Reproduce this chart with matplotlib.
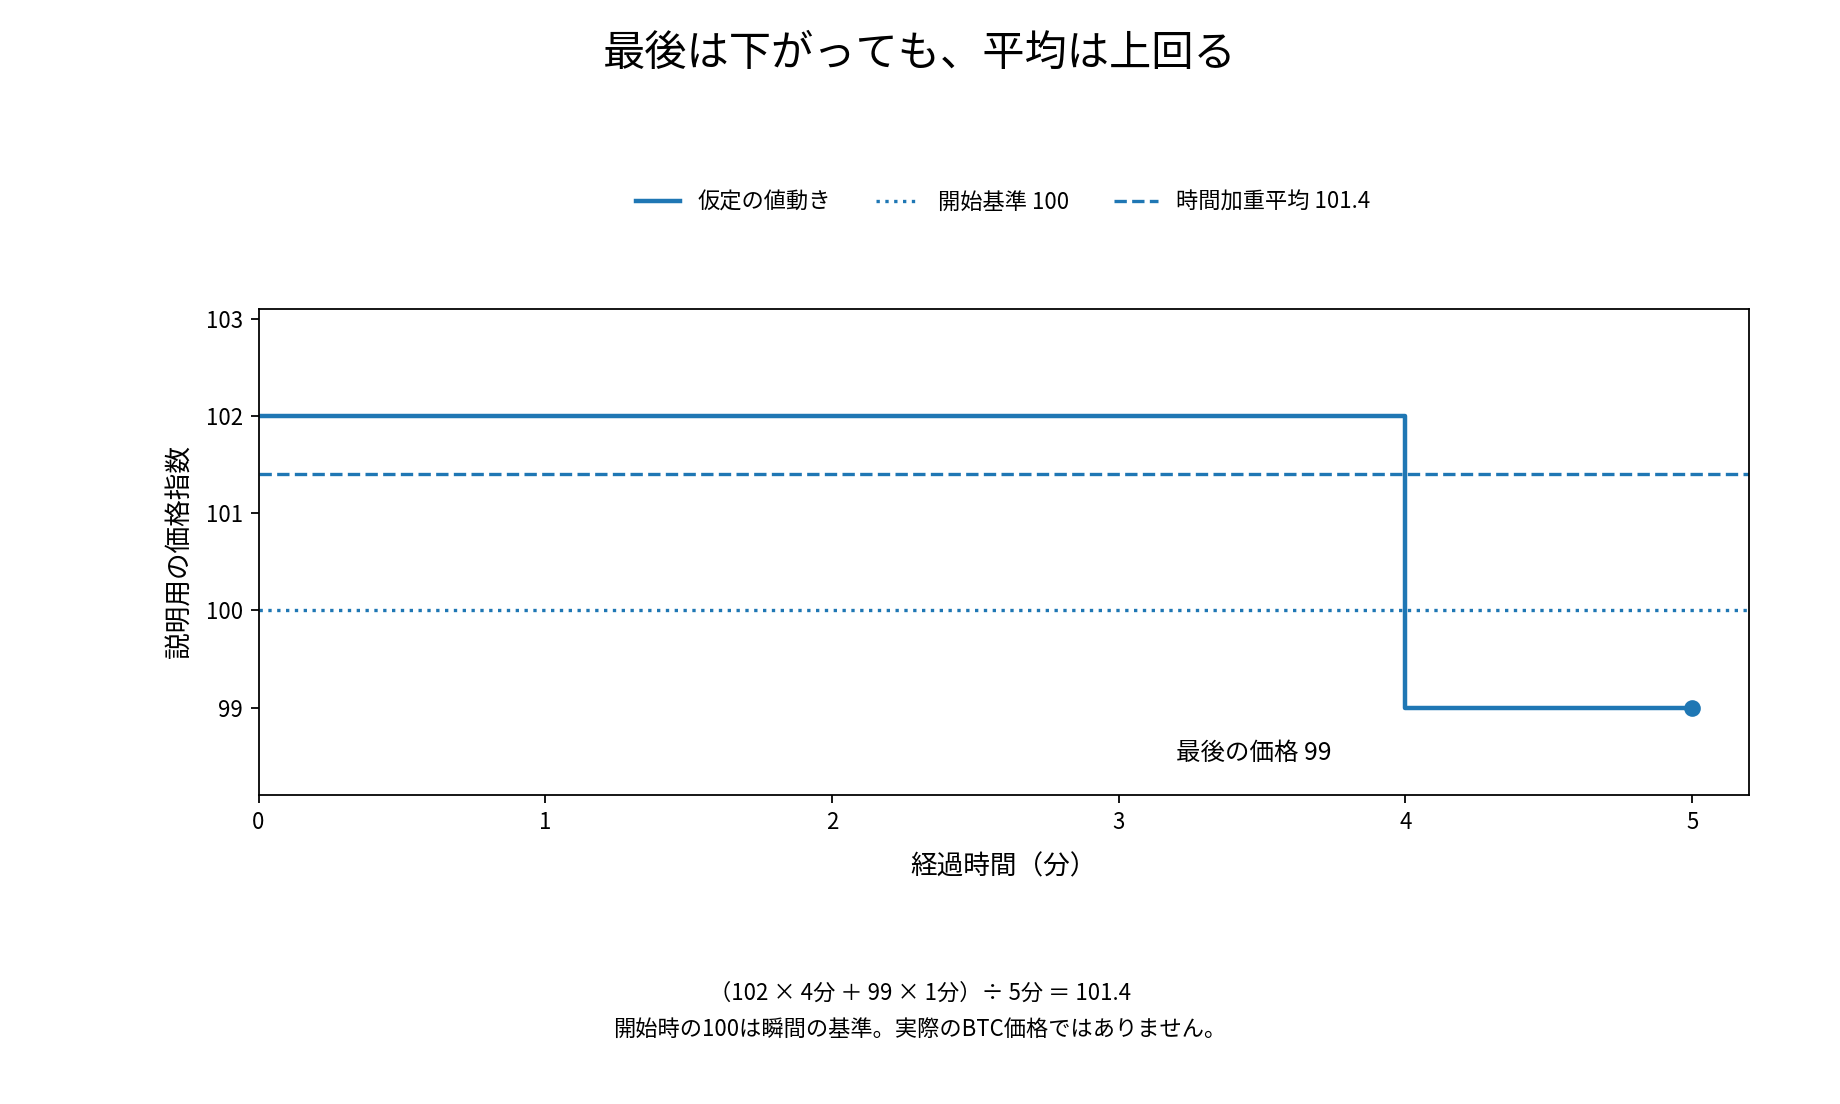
import matplotlib
matplotlib.use("Agg")
import matplotlib.pyplot as plt

plt.rcParams['font.family'] = ['Noto Sans CJK JP', 'DejaVu Sans']

# data
step_minutes = [0, 4, 5]
step_prices = [102, 99, 99]
baseline = 100
twap = 101.4
last_price = 99
xticks = [0, 1, 2, 3, 4, 5]
yticks = [99, 100, 101, 102, 103]

title = "最後は下がっても、平均は上回る"
label_path = "仮定の値動き"
label_base = "開始基準 100"
label_twap = "時間加重平均 101.4"
xlabel = "経過時間（分）"
ylabel = "説明用の価格指数"
annot = "最後の価格 99"
foot = "（102 × 4分 ＋ 99 × 1分）÷ 5分 ＝ 101.4\n開始時の100は瞬間の基準。実際のBTC価格ではありません。"

color = '#1f77b4'

DPI = 160
fig = plt.figure(figsize=(1840/DPI, 1104/DPI), dpi=DPI)
ax = fig.add_axes([0.1405, 0.2798, 0.8103, 0.4404])

ax.step(step_minutes, step_prices, where='post', color=color, lw=2, label=label_path)
ax.axhline(baseline, color=color, lw=1.5, ls=':', label=label_base)
ax.axhline(twap, color=color, lw=1.5, ls='--', label=label_twap)
ax.plot([step_minutes[-1]], [last_price], 'o', color=color, ms=6.5)

ax.text(3.47, last_price - 0.47, annot, ha='center', va='center', fontsize=11)

ax.set_xlim(0, 5.2)
ax.set_ylim(98.1, 103.1)
ax.set_xticks(xticks)
ax.set_yticks(yticks)
ax.tick_params(labelsize=10)
ax.set_xlabel(xlabel, fontsize=12, labelpad=9)
ax.set_ylabel(ylabel, fontsize=12, labelpad=5.5)

fig.text(0.5, 0.951, title, ha='center', va='center', fontsize=19)
fig.legend(loc='center', bbox_to_anchor=(0.545, 0.817), ncol=3, frameon=False, fontsize=10)
fig.text(0.5, 0.084, foot, ha='center', va='center', fontsize=10, linespacing=1.75)

fig.savefig('out.png', dpi=DPI)
